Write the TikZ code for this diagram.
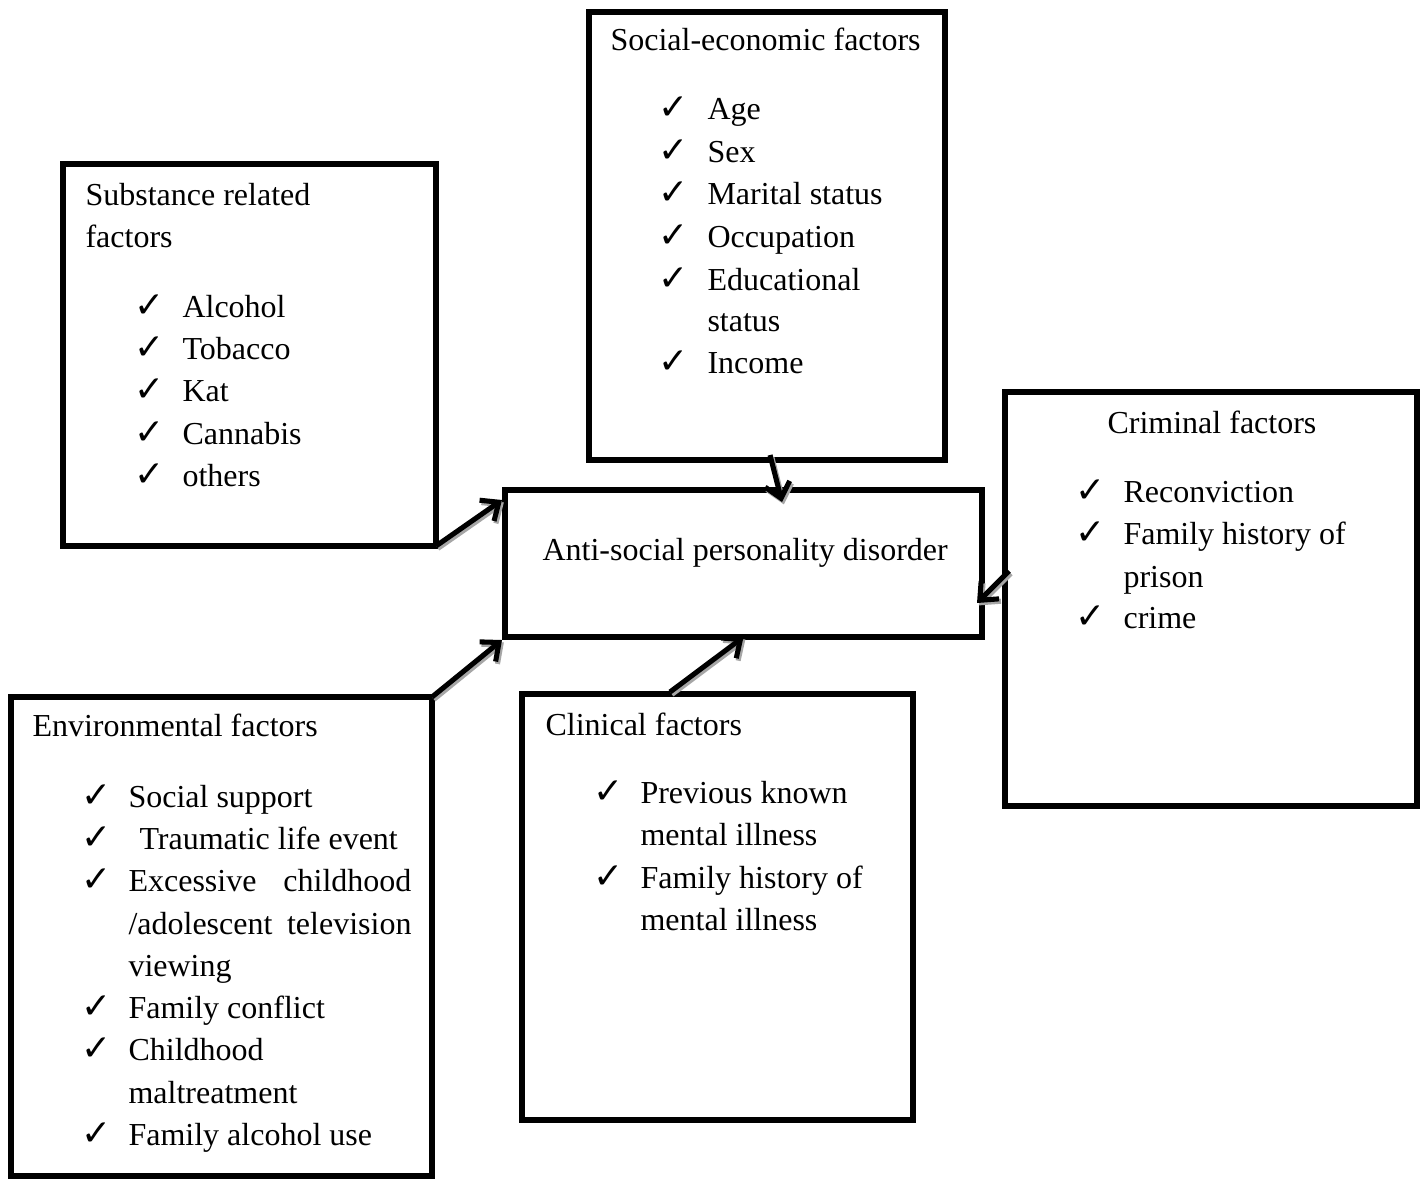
\documentclass[tikz,border=0pt]{standalone}
\usepackage{fontspec}
\setmainfont{Liberation Serif}
\newfontfamily\symf{DejaVu Sans}
\usetikzlibrary{fit,arrows.meta}
\begin{document}
\begin{tikzpicture}[x=0.375pt,y=-0.375pt,
  box/.style={draw, line width=1.9pt, inner sep=0pt, outer sep=0pt},
  txt/.style={anchor=base west, inner sep=0pt, font=\fontsize{12}{14}\selectfont},
  tick/.style={anchor=base west, inner sep=0pt, font=\symf\bfseries\fontsize{13.5}{14}\selectfont},
  arr/.style={line width=1.9pt, -{Straight Barb[length=5.5pt,width=9.5pt]}},
  arrsh/.style={arr, draw=black!35, transform canvas={shift={(0.7pt,-0.9pt)}}}
]
\useasboundingbox (0,0) rectangle (1424,1178);

% boxes
\node[box, fit={(589,12)(945,460)}] (soc) {};
\node[box, fit={(63,164)(436,546)}] (sub) {};
\node[box, fit={(505,490)(982,637)}] (cen) {};
\node[box, fit={(1005,392)(1417,806)}] (crim) {};
\node[box, fit={(11,697)(432,1176)}] (env) {};
\node[box, fit={(522,694)(913,1120)}] (clin) {};

% social-economic
\node[txt] (socT) at (610,50) {Social-economic factors};
\foreach \y/\t [count=\i] in {119/Age,162/Sex,204/Marital status,247/Occupation,290/Educational,373/Income}{
  \node[tick] (socK\i) at (658,\y) {✓};
  \node[txt] (socI\i) at (707,\y) {\t};
}
\node[txt] (socI7) at (707,331) {status};

% substance
\node[txt] (subT1) at (85,205) {Substance related};
\node[txt] (subT2) at (85,247) {factors};
\foreach \y/\t [count=\i] in {317/Alcohol,359/Tobacco,401/Kat,444/Cannabis,486/others}{
  \node[tick] (subK\i) at (134,\y) {✓};
  \node[txt] (subI\i) at (182,\y) {\t};
}

% centre
\node[txt] (cenT) at (542,560) {Anti-social personality disorder};

% criminal
\node[txt] (crimT) at (1107,433) {Criminal factors};
\foreach \y/\t [count=\i] in {502/Reconviction,544/Family history of,628/crime}{
  \node[tick] (crimK\i) at (1075,\y) {✓};
  \node[txt] (crimI\i) at (1123,\y) {\t};
}
\node[txt] (crimI4) at (1123,587) {prison};

% clinical
\node[txt] (clinT) at (545,735) {Clinical factors};
\node[tick] (clinK1) at (593,803) {✓};
\node[txt] (clinI1) at (640,803) {Previous known};
\node[txt] (clinI2) at (640,845) {mental illness};
\node[tick] (clinK2) at (593,888) {✓};
\node[txt] (clinI3) at (640,888) {Family history of};
\node[txt] (clinI4) at (640,930) {mental illness};

% environmental
\node[txt] (envT) at (32,736) {Environmental factors};
\foreach \y [count=\i] in {807,849,891,1018,1060,1145}{
  \node[tick] (envK\i) at (81,\y) {✓};
}
\node[txt] (envI1) at (128,807) {Social support};
\node[txt] (envI2) at (139,849) {Traumatic life event};
\node[txt] (envI3) at (128,891) {\hbox to 106.1pt{Excessive\hfill childhood}};
\node[txt] (envI4) at (128,934) {\hbox to 106.1pt{/adolescent\hfill television}};
\node[txt] (envI5) at (128,976) {viewing};
\node[txt] (envI6) at (128,1018) {Family conflict};
\node[txt] (envI7) at (128,1060) {Childhood};
\node[txt] (envI8) at (128,1103) {maltreatment};
\node[txt] (envI9) at (128,1145) {Family alcohol use};

% connectors (shadow first)
\foreach \s in {arrsh,arr}{
  \draw[\s] (sub.south east) -- ([shift={(-3,10)}]cen.north west);
  \draw[\s] (env.north east) -- ([shift={(-3,3)}]cen.south west);
  \draw[\s] ([shift={(3,-5)}]soc.south) -- ([shift={(38.5,12)}]cen.north);
  \draw[\s] ([shift={(4,-28)}]crim.west) -- ([shift={(-5,39.5)}]cen.east);
  \draw[\s] ([shift={(-47.5,-2)}]clin.north) -- (cen.south);
}
\end{tikzpicture}
\end{document}
